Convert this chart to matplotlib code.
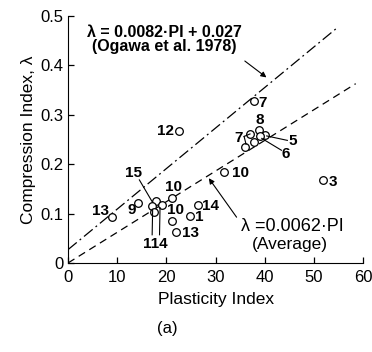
import matplotlib.pyplot as plt
import numpy as np

plt.rcParams['font.family'] = ['Liberation Sans', 'DejaVu Sans']

# plasticity index / compression index
pi_vals = [9.0, 14.2, 17.9, 17.1, 19.2, 17.5, 21.1, 21.2, 22.0, 24.9, 26.5,
           31.7, 51.9, 22.6, 37.9, 37.0, 38.9, 40.0, 39.0, 37.9, 36.0]
lam_vals = [0.092, 0.121, 0.126, 0.116, 0.117, 0.104, 0.131, 0.084, 0.062, 0.095, 0.117,
            0.184, 0.168, 0.266, 0.328, 0.261, 0.268, 0.259, 0.256, 0.244, 0.235]

# point labels: text, x, y
labels = [("13", 6.5, 0.106), ("9", 12.9, 0.107), ("15", 13.4, 0.182),
          ("10", 21.4, 0.154), ("10", 21.9, 0.107), ("13", 24.9, 0.060),
          ("1", 26.6, 0.093), ("14", 29.0, 0.115), ("10", 35.0, 0.182),
          ("3", 53.9, 0.163), ("12", 19.8, 0.266), ("7", 39.6, 0.323),
          ("8", 38.9, 0.290), ("7", 34.6, 0.253), ("5", 45.6, 0.246),
          ("6", 44.2, 0.221), ("114", 17.7, 0.038)]

# leader lines from labels to points: x0, y0, x1, y1
leaders = [(14.5, 0.168, 17.1, 0.124), (17.1, 0.057, 17.2, 0.108),
           (18.6, 0.057, 18.7, 0.112), (35.8, 0.256, 37.0, 0.261),
           (35.8, 0.256, 36.2, 0.240), (40.4, 0.257, 44.6, 0.248),
           (39.4, 0.252, 43.4, 0.228)]

ogawa_x = [0, 55]
avg_x = [0, 58.5]

fig = plt.figure(figsize=(3.72, 3.52), dpi=100)
ax = fig.add_axes([0.183, 0.253, 0.793, 0.702])

ax.plot(ogawa_x, [0.0082 * x + 0.027 for x in ogawa_x], color="black", lw=0.9,
        dashes=[9, 3, 1.5, 3])
ax.plot(avg_x, [0.0062 * x for x in avg_x], color="black", lw=0.9, dashes=[6, 4])
ax.plot(pi_vals, lam_vals, "o", mfc="white", mec="black", ms=5.5, mew=0.9)

for t, x, y in labels:
    ax.text(x, y, t, ha="center", va="center", fontsize=11, fontweight="bold")
for x0, y0, x1, y1 in leaders:
    ax.plot([x0, x1], [y0, y1], color="black", lw=0.8)

ax.text(3.8, 0.466, "λ = 0.0082·PI + 0.027", fontsize=11.5, fontweight="bold", va="center")
ax.text(4.8, 0.437, "(Ogawa et al. 1978)", fontsize=11.5, fontweight="bold", va="center")
ax.annotate("", xy=(40.8, 0.372), xytext=(35.5, 0.412),
            arrowprops=dict(arrowstyle="-|>", color="black", lw=0.8, mutation_scale=8))

ax.text(35.2, 0.073, "λ =0.0062·PI", fontsize=13, va="center")
ax.text(37.3, 0.037, "(Average)", fontsize=12.5, va="center")
ax.annotate("", xy=(28.3, 0.176), xytext=(34.6, 0.088),
            arrowprops=dict(arrowstyle="-|>", color="black", lw=0.8, mutation_scale=8))

ax.set_xlim(0, 60)
ax.set_ylim(0, 0.5)
ax.set_xticks([0, 10, 20, 30, 40, 50, 60])
ax.set_xticklabels(["0", "10", "20", "30", "40", "50", "60"])
ax.set_yticks([0, 0.1, 0.2, 0.3, 0.4, 0.5])
ax.set_yticklabels(["0", "0.1", "0.2", "0.3", "0.4", "0.5"])
ax.tick_params(direction="in", length=4, labelsize=12, width=0.9)
ax.tick_params(axis="x", pad=5)
ax.spines["top"].set_visible(False)
ax.spines["right"].set_visible(False)
ax.set_xlabel("Plasticity Index", fontsize=12.5, labelpad=5)
ax.set_ylabel("Compression Index, λ", fontsize=12.5, labelpad=3)
fig.text(0.45, 0.068, "(a)", fontsize=12, ha="center", va="center")

fig.savefig("out.png", dpi=100)
